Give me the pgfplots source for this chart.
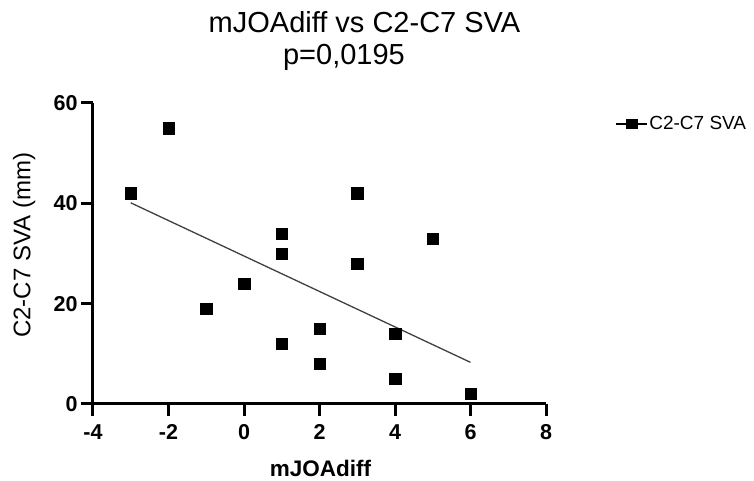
\documentclass[border=0pt]{standalone}
\usepackage{fontspec}
\setmainfont{Liberation Sans}
\usepackage{pgfplots}
\pgfplotsset{compat=1.18}

% scatter points
\pgfplotstableread{
x  y
-3 42
-2 55
-1 19
0  24
1  34
1  30
1  12
2  15
2  8
3  42
3  28
4  14
4  5
5  33
6  2
}\svadata

\begin{document}
\begin{tikzpicture}
\useasboundingbox (0,0) rectangle (754pt,481pt);
\begin{axis}[
  at={(93pt,77pt)}, anchor=south west,
  scale only axis, width=453pt, height=301pt,
  xmin=-4, xmax=8, ymin=0, ymax=60,
  xtick={-4,-2,...,8}, ytick={0,20,40,60},
  axis x line*=bottom, axis y line*=left,
  axis line style={line width=3pt, black, -},
  every tick/.style={line width=3pt, black},
  tick align=outside, major tick length=12pt,
  /pgf/number format/assume math mode=true,
  ticklabel style={font=\fontsize{21.5}{25}\selectfont\bfseries},
  xticklabel style={yshift=-5pt},
  xlabel={mJOAdiff},
  xlabel style={font=\fontsize{22.5}{26}\selectfont\bfseries, at={(axis description cs:0.502,-0.214)}, anchor=center},
  ylabel={C2-C7 SVA (mm)},
  ylabel style={font=\fontsize{24}{28}\selectfont, at={(axis description cs:-0.152,0.527)}, anchor=center},
  clip=false,
  legend style={at={(1.152,0.930)}, anchor=west, draw=none, fill=none, inner sep=0pt,
    font=\fontsize{19}{22}\selectfont},
  legend cell align=left,
  legend image code/.code={
    \draw[line width=1.3pt, black] (0pt,0pt) -- (31pt,0pt);
    \fill[black] (10.5pt,-4.5pt) rectangle (21.5pt,4.5pt);},
]
\addplot[only marks, mark=square*, mark size=5.7pt, black] table {\svadata};
\addlegendentry{C2-C7 SVA}
\addplot[forget plot, line width=1.3pt, black!75] coordinates {(-3,40.1) (6,8.3)};
\end{axis}
\node[anchor=base, font=\fontsize{29}{34}\selectfont] at (364.5pt,448pt) {mJOAdiff vs C2-C7 SVA};
\node[anchor=base, font=\fontsize{29}{34}\selectfont] at (344pt,416pt) {p=0,0195};
\end{tikzpicture}
\end{document}
